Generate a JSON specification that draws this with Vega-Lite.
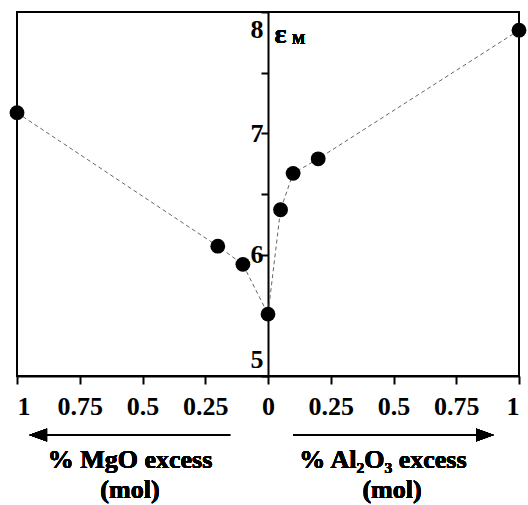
{
  "$schema": "https://vega.github.io/schema/vega-lite/v6.json",
  "width": 502,
  "height": 364,
  "autosize": {"type": "none"},
  "padding": {"left": 17, "top": 12, "right": 9, "bottom": 129},
  "background": "white",
  "config": {
    "view": {"stroke": "black", "strokeWidth": 2},
    "axis": {
      "grid": false,
      "domainColor": "black",
      "domainWidth": 2,
      "tickColor": "black",
      "tickWidth": 2,
      "labelFont": "Liberation Serif",
      "labelFontWeight": "bold",
      "labelColor": "black",
      "labelOverlap": false
    }
  },
  "data": {
    "values": [
      {"excess": -1, "eps": 7.17},
      {"excess": -0.2, "eps": 6.07},
      {"excess": -0.1, "eps": 5.92},
      {"excess": 0, "eps": 5.51},
      {"excess": 0.05, "eps": 6.37},
      {"excess": 0.1, "eps": 6.67},
      {"excess": 0.2, "eps": 6.79},
      {"excess": 1, "eps": 7.85}
    ]
  },
  "layer": [
    {
      "mark": {"type": "line", "strokeDash": [4, 3], "color": "#666666", "strokeWidth": 1},
      "encoding": {
        "x": {
          "field": "excess", "type": "quantitative",
          "scale": {"domain": [-1, 1], "nice": false},
          "axis": {
            "values": [-1, -0.75, -0.5, -0.25, 0, 0.25, 0.5, 0.75, 1],
            "labelExpr": "'' + abs(datum.value)",
            "labelFontSize": 26,
            "tickSize": 8,
            "labelPadding": 9,
            "labelFlush": true,
            "title": null
          }
        },
        "y": {
          "field": "eps", "type": "quantitative",
          "scale": {"domain": [5, 8], "nice": false, "zero": false},
          "axis": {
            "offset": -251,
            "values": [5, 5.5, 6, 6.5, 7, 7.5, 8],
            "labelExpr": "datum.value % 1 === 0 ? '' + datum.value : ''",
            "labelFontSize": 26,
            "tickSize": 7,
            "labelPadding": -2,
            "labelFlush": true,
            "labelFlushOffset": -4,
            "title": null
          }
        }
      }
    },
    {
      "mark": {"type": "point", "filled": true, "color": "black", "size": 220, "opacity": 1},
      "encoding": {
        "x": {"field": "excess", "type": "quantitative"},
        "y": {"field": "eps", "type": "quantitative"}
      }
    },
    {
      "mark": {"type": "text", "text": "ε", "font": "Liberation Serif", "fontWeight": "bold", "fontSize": 28, "align": "left", "baseline": "alphabetic", "color": "black"},
      "encoding": {"x": {"datum": 0.026}, "y": {"datum": 7.745}}
    },
    {
      "mark": {"type": "text", "text": "M", "font": "Liberation Serif", "fontWeight": "bold", "fontSize": 14, "align": "left", "baseline": "alphabetic", "color": "black"},
      "encoding": {"x": {"datum": 0.096}, "y": {"datum": 7.735}}
    },
    {
      "mark": {"type": "rule", "color": "black", "strokeWidth": 2},
      "encoding": {"x": {"datum": -0.88}, "x2": {"datum": -0.151}, "y": {"datum": 4.513}}
    },
    {
      "mark": {"type": "rule", "color": "black", "strokeWidth": 2},
      "encoding": {"x": {"datum": 0.1}, "x2": {"datum": 0.83}, "y": {"datum": 4.513}}
    },
    {
      "mark": {"type": "point", "filled": true, "color": "black", "opacity": 1, "size": 324, "shape": "M -1 0 L 1 -0.72 L 1 0.72 Z"},
      "encoding": {"x": {"datum": -0.916}, "y": {"datum": 4.513}}
    },
    {
      "mark": {"type": "point", "filled": true, "color": "black", "opacity": 1, "size": 324, "shape": "M 1 0 L -1 -0.72 L -1 0.72 Z"},
      "encoding": {"x": {"datum": 0.8645}, "y": {"datum": 4.513}}
    },
    {
      "mark": {"type": "text", "text": "% MgO excess", "font": "Liberation Serif", "fontWeight": "bold", "fontSize": 26, "align": "center", "baseline": "middle", "color": "black"},
      "encoding": {"x": {"datum": -0.55}, "y": {"datum": 4.307}}
    },
    {
      "mark": {"type": "text", "text": "(mol)", "font": "Liberation Serif", "fontWeight": "bold", "fontSize": 26, "align": "center", "baseline": "middle", "color": "black"},
      "encoding": {"x": {"datum": -0.55}, "y": {"datum": 4.06}}
    },
    {
      "mark": {"type": "text", "text": "% Al₂O₃ excess", "font": "Liberation Serif", "fontWeight": "bold", "fontSize": 26, "align": "center", "baseline": "middle", "color": "black"},
      "encoding": {"x": {"datum": 0.458}, "y": {"datum": 4.307}}
    },
    {
      "mark": {"type": "text", "text": "(mol)", "font": "Liberation Serif", "fontWeight": "bold", "fontSize": 26, "align": "center", "baseline": "middle", "color": "black"},
      "encoding": {"x": {"datum": 0.494}, "y": {"datum": 4.06}}
    }
  ]
}
